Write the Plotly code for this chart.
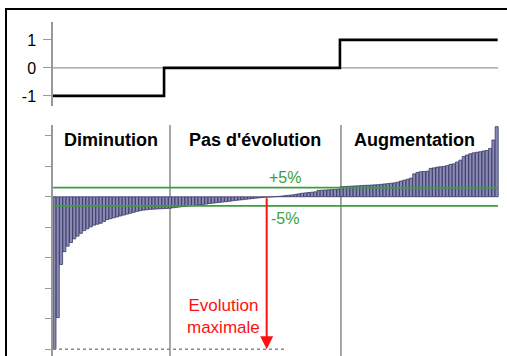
import plotly.graph_objects as go

# ---------------- data ----------------
bar_values = [
    # Diminution
    -83.3, -66.0, -37.0, -30.0, -27.0, -25.0, -23.0, -21.5, -20.0, -18.5,
    -17.5, -16.5, -15.5, -15.0, -14.5, -13.5, -12.5, -12.0, -11.5, -11.0,
    -10.5, -10.0, -9.5, -9.0, -8.5, -8.0, -7.6, -7.3, -7.1, -6.9,
    -6.8, -6.7, -6.6, -6.5, -6.4, -6.3,
    # Pas d'évolution
    -6.0, -5.8, -5.6, -5.4, -5.2, -5.0, -4.8, -4.6, -4.4, -4.2,
    -4.0, -3.7, -3.5, -3.3, -3.1, -2.9, -2.7, -2.5, -2.2, -2.0,
    -1.8, -1.6, -1.4, -1.2, -1.0, -0.8, -0.6, -0.4, -0.3, -0.2,
    -0.1, 0.1, 0.2, 0.4, 0.6, 0.8, 1.0, 1.3, 1.6, 1.9,
    2.1, 2.3, 2.5, 2.7, 3.5, 3.6, 3.7, 3.8, 3.9, 4.0, 4.2,
    # Augmentation
    5.5, 5.6, 5.7, 5.8, 5.9, 6.0, 6.1, 6.2, 6.3, 6.4,
    6.5, 6.6, 6.8, 7.0, 7.2, 7.4, 7.6, 8.0, 8.6, 9.1,
    9.6, 10.2, 12.5, 13.3, 13.7, 13.8, 14.0, 15.5, 15.8, 16.2,
    16.4, 16.6, 17.0, 17.7, 18.0, 19.0, 20.0, 22.0, 22.8, 23.5,
    24.0, 24.3, 24.6, 25.0, 25.3, 26.4, 31.0, 38.3,
]
bar_index = list(range(len(bar_values)))

step_x = [-0.45, 33.2, 86.5, 134.3]
step_y = [-1, 0, 1, 1]
step_ticks = [-1, 0, 1]
step_tick_labels = ["-1", "0", "1"]

threshold_values = [5, -5]
threshold_labels = ["+5%", "-5%"]
group_labels = ["Diminution", "Pas d'évolution", "Augmentation"]
group_bounds = [35.0, 86.8]
arrow_x = 64.3
arrow_label = "Evolution<br>maximale"
bar_ticks = [-250 / 3, -200 / 3, -50, -100 / 3, -50 / 3, 0, 50 / 3, 100 / 3]

# ---------------- layout helpers ----------------
W, H = 507, 356
FONT = "Liberation Sans, Arial, sans-serif"


def px(x):
    return x / W


def py(y):
    return (H - y) / H


x_min, x_max = -0.45, 135.0
x_end = 134.4

fig = go.Figure()

fig.add_trace(go.Bar(
    x=bar_index, y=bar_values, xaxis="x", yaxis="y",
    marker=dict(color="#8a8ab2", line=dict(color="#27275a", width=0.7)),
    showlegend=False, hoverinfo="skip",
))

fig.add_trace(go.Scatter(
    x=step_x, y=step_y, xaxis="x2", yaxis="y2", mode="lines",
    line=dict(color="black", width=2.6, shape="hv"),
    showlegend=False, hoverinfo="skip",
))

y_min = min(bar_values)

shapes = []
# outer frame
shapes.append(dict(type="rect", xref="paper", yref="paper",
                   x0=px(6), x1=1.2, y0=-0.2, y1=py(9),
                   line=dict(color="black", width=2), fillcolor="rgba(0,0,0,0)"))
# top zero line
shapes.append(dict(type="line", xref="x2", yref="y2", x0=x_min, x1=x_end, y0=0, y1=0,
                   line=dict(color="#999999", width=1.2), layer="below"))
# group separators
for b in group_bounds:
    shapes.append(dict(type="line", xref="x", yref="y domain", x0=b, x1=b, y0=0, y1=1,
                       line=dict(color="#8a8a8a", width=1.5), layer="below"))
# threshold lines
for t in threshold_values:
    shapes.append(dict(type="line", xref="x", yref="y", x0=x_min, x1=x_end, y0=t, y1=t,
                       line=dict(color="#3aa03a", width=1.6)))
# dotted line at maximal evolution
shapes.append(dict(type="line", xref="x", yref="y", x0=x_min, x1=69.8, y0=y_min, y1=y_min,
                   line=dict(color="#888888", width=1.6, dash="dot")))

annotations = []
# red arrow
annotations.append(dict(x=arrow_x, y=y_min, ax=arrow_x, ay=0, xref="x", yref="y",
                        axref="x", ayref="y", showarrow=True, arrowhead=2, arrowsize=1.3,
                        arrowwidth=2, arrowcolor="#ff1010", text="", standoff=0))
annotations.append(dict(x=px(223), y=py(316), xref="paper", yref="paper",
                        xanchor="center", yanchor="middle",
                        text=arrow_label, showarrow=False, align="center",
                        font=dict(family=FONT, size=17, color="#ff1010")))
# threshold labels
annotations.append(dict(x=px(285), y=py(177.5), xref="paper", yref="paper",
                        xanchor="center", yanchor="middle",
                        text=threshold_labels[0], showarrow=False,
                        font=dict(family=FONT, size=16, color="#3aa03a")))
annotations.append(dict(x=px(285), y=py(218), xref="paper", yref="paper",
                        xanchor="center", yanchor="middle",
                        text=threshold_labels[1], showarrow=False,
                        font=dict(family=FONT, size=16, color="#3aa03a")))
# group headers
for lab, cx in zip(group_labels, [111, 255, 414]):
    annotations.append(dict(x=px(cx), y=py(140), xref="paper", yref="paper",
                            xanchor="center", yanchor="middle",
                            text="<b>" + lab + "</b>", showarrow=False,
                            font=dict(family=FONT, size=18, color="black")))

fig.update_layout(
    width=W, height=H,
    margin=dict(l=0, r=0, t=0, b=0),
    paper_bgcolor="white", plot_bgcolor="rgba(0,0,0,0)",
    bargap=0.08,
    shapes=shapes, annotations=annotations,
    xaxis=dict(domain=[px(53), px(500)], range=[x_min, x_max], visible=False,
               anchor="y"),
    yaxis=dict(domain=[0, py(125)], range=[-87.0, 39.2], anchor="x",
               showline=True, linecolor="#999999", linewidth=1.5,
               ticks="outside", ticklen=6, tickcolor="#999999", tickwidth=1.2,
               tickvals=bar_ticks, showticklabels=False,
               showgrid=False, zeroline=False),
    xaxis2=dict(domain=[px(53), px(500)], range=[x_min, x_max], visible=False,
                anchor="y2"),
    yaxis2=dict(domain=[py(106), py(22)], range=[-1.36, 1.64], anchor="x2",
                showline=True, linecolor="#999999", linewidth=1.5,
                ticks="outside", ticklen=8, tickcolor="#999999", tickwidth=1.2,
                tickvals=step_ticks, ticktext=step_tick_labels,
                tickfont=dict(family=FONT, size=16, color="black"),
                ticklabelstandoff=4,
                showgrid=False, zeroline=False),
)

fig.write_html("out.html", config={"displayModeBar": False},
               post_script="document.body.style.margin='0';")
